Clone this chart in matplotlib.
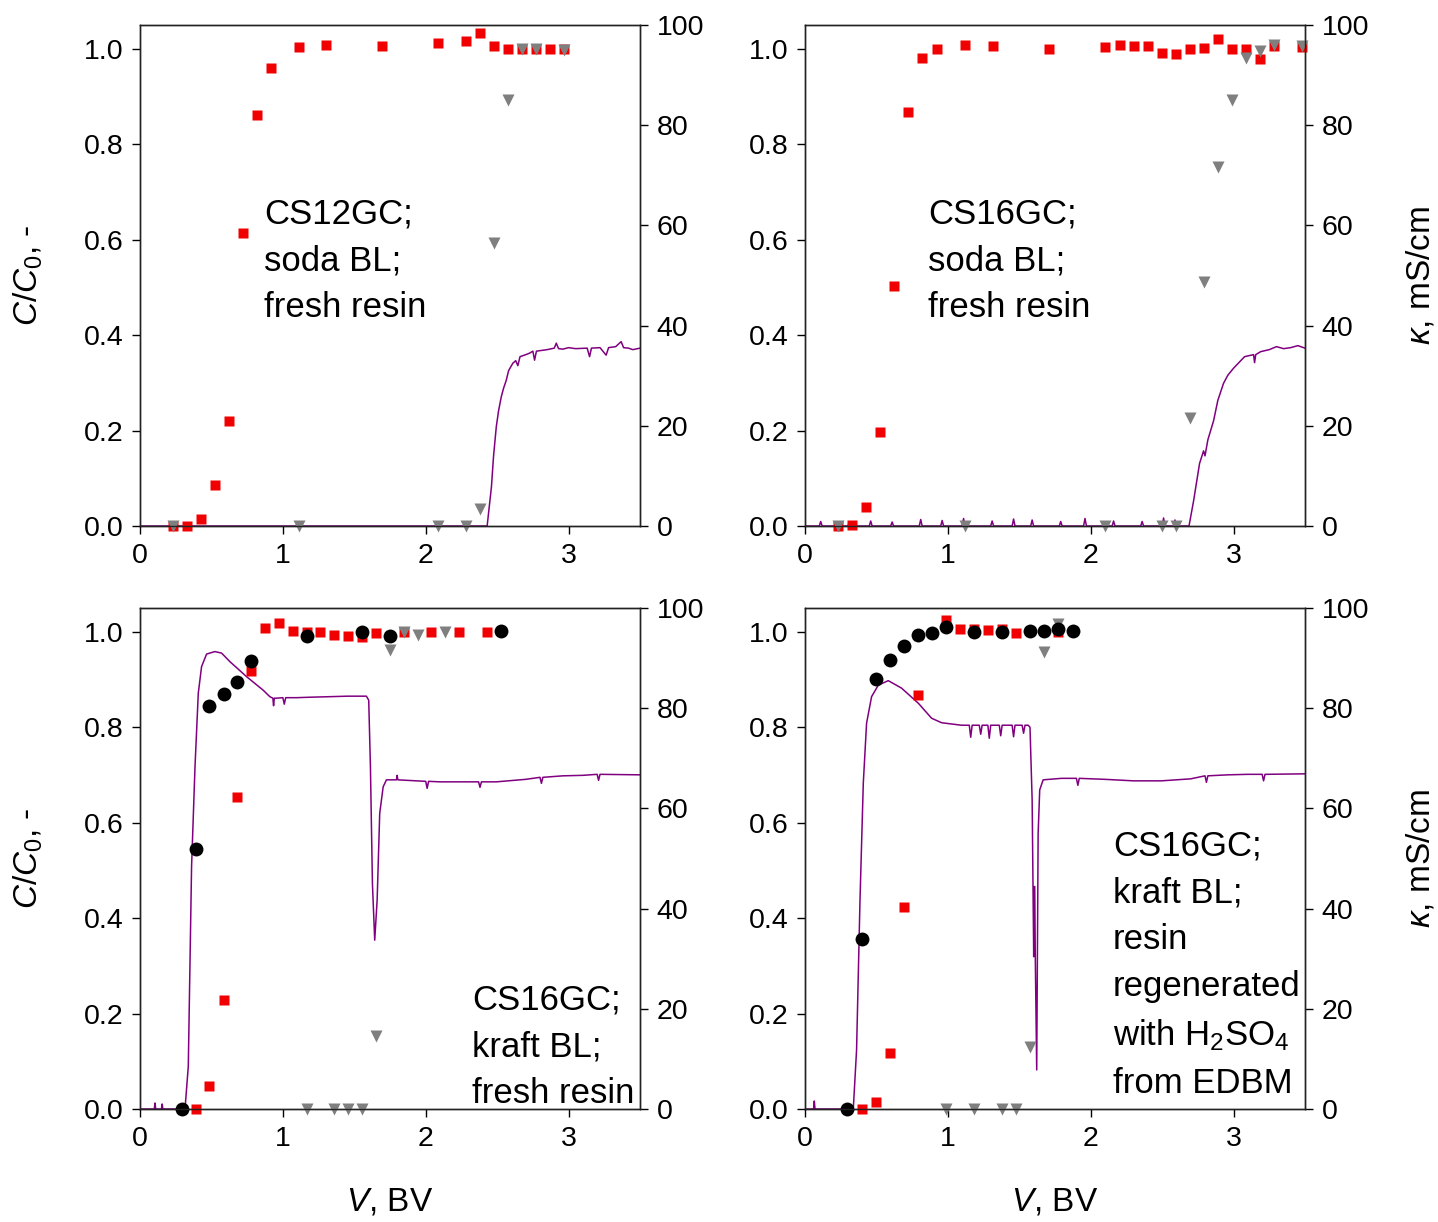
import matplotlib
matplotlib.use("Agg")
import matplotlib.pyplot as plt

plt.rcParams['font.family'] = ['Liberation Sans', 'DejaVu Sans']
plt.rcParams['mathtext.fontset'] = 'custom'
plt.rcParams['mathtext.rm'] = 'Liberation Sans'
plt.rcParams['mathtext.it'] = 'Liberation Sans:italic'

# ---------------- Panel A: CS12GC; soda BL; fresh resin ----------------
a_sq_x = [0.228, 0.326, 0.424, 0.522, 0.62, 0.718, 0.816, 0.914, 1.11, 1.305, 1.697, 2.086, 2.28, 2.378, 2.478, 2.573, 2.674, 2.77, 2.867, 2.965]
a_sq_y = [0.0, 0.0, 0.015, 0.085, 0.221, 0.615, 0.862, 0.959, 1.003, 1.008, 1.006, 1.012, 1.017, 1.033, 1.006, 0.999, 0.999, 0.999, 0.999, 0.999]
a_tri_x = [0.228, 1.11, 2.086, 2.28, 2.378, 2.478, 2.573, 2.674, 2.77, 2.965]
a_tri_y = [0.0, 0.0, 0.0, 0.0, 0.036, 0.594, 0.892, 1.0, 1.0, 0.997]
a_k_x = [0.0, 2.43, 2.46, 2.475, 2.494, 2.51, 2.529, 2.545, 2.564, 2.58, 2.61, 2.63, 2.645, 2.66, 2.70, 2.727, 2.75, 2.762, 2.775,
         2.85, 2.90, 2.914, 2.93, 2.96, 3.00, 3.05, 3.13, 3.147, 3.16, 3.22, 3.263, 3.28, 3.33, 3.368, 3.385, 3.42, 3.45, 3.5]
a_k_y = [0.0, 0.0, 7.8, 14.0, 19.8, 23.0, 25.8, 27.5, 29.1, 31.0, 32.5, 33.0, 32.0, 33.8, 34.2, 34.5, 34.9, 33.1, 34.9,
         35.2, 35.5, 36.5, 35.4, 35.3, 35.6, 35.4, 35.5, 33.8, 35.5, 35.6, 34.1, 35.6, 35.8, 36.8, 35.6, 35.5, 35.2, 35.5]

# ---------------- Panel B: CS16GC; soda BL; fresh resin ----------------
b_sq_x = [0.228, 0.326, 0.429, 0.527, 0.625, 0.723, 0.82, 0.921, 1.119, 1.315, 1.709, 2.103, 2.203, 2.301, 2.399, 2.497, 2.594, 2.692, 2.79, 2.888, 2.986, 3.086, 3.184, 3.282, 3.478]
b_sq_y = [0.0, 0.002, 0.039, 0.196, 0.504, 0.868, 0.98, 1.0, 1.009, 1.006, 0.999, 1.003, 1.008, 1.007, 1.007, 0.991, 0.989, 1.0, 1.001, 1.02, 1.0, 0.999, 0.979, 1.005, 1.003]
b_tri_x = [0.228, 1.119, 2.103, 2.497, 2.594, 2.692, 2.79, 2.888, 2.986, 3.086, 3.184, 3.282, 3.478]
b_tri_y = [0.0, 0.0, 0.0, 0.0, 0.0, 0.226, 0.511, 0.753, 0.893, 0.98, 0.996, 1.008, 1.006]
b_k_x = [0.0, 0.10, 0.11, 0.12, 0.30, 0.31, 0.32, 0.45, 0.46, 0.47, 0.60, 0.61, 0.62, 0.80, 0.81, 0.82,
         0.95, 0.96, 0.97, 1.10, 1.11, 1.12, 1.30, 1.31, 1.32, 1.45, 1.46, 1.47, 1.58, 1.59, 1.60,
         1.78, 1.79, 1.80, 1.95, 1.96, 1.97, 2.15, 2.16, 2.17, 2.35, 2.36, 2.37, 2.50, 2.51, 2.52, 2.58, 2.59, 2.60,
         2.688, 2.72, 2.762, 2.79, 2.80, 2.82, 2.86, 2.89, 2.93, 2.96, 3.00, 3.077, 3.14, 3.147, 3.155, 3.19, 3.25, 3.30, 3.35, 3.40, 3.45, 3.5]
b_k_y = [0.0, 0.0, 0.9, 0.0, 0.0, 0.7, 0.0, 0.0, 1.0, 0.0, 0.0, 0.8, 0.0, 0.0, 1.3, 0.0,
         0.0, 1.1, 0.0, 0.0, 1.5, 0.0, 0.0, 1.0, 0.0, 0.0, 1.4, 0.0, 0.0, 1.2, 0.0,
         0.0, 0.9, 0.0, 0.0, 1.5, 0.0, 0.0, 1.0, 0.0, 0.0, 0.9, 0.0, 0.0, 1.6, 0.0, 0.0, 1.2, 0.0,
         0.0, 5.0, 12.5, 15.0, 14.0, 17.2, 21.0, 25.1, 28.5, 30.1, 31.5, 33.8, 34.2, 32.6, 34.2, 34.8, 35.2, 35.8, 35.4, 35.6, 36.0, 35.5]

# ---------------- Panel C: CS16GC; kraft BL; fresh resin ----------------
c_sq_x = [0.389, 0.485, 0.585, 0.681, 0.779, 0.874, 0.972, 1.07, 1.166, 1.263, 1.361, 1.457, 1.555, 1.653, 1.846, 2.04, 2.233, 2.429]
c_sq_y = [0.0, 0.049, 0.229, 0.653, 0.919, 1.009, 1.018, 1.001, 0.999, 0.999, 0.994, 0.992, 0.99, 0.997, 0.999, 0.999, 0.999, 0.999]
c_dot_x = [0.291, 0.389, 0.485, 0.585, 0.681, 0.779, 1.166, 1.555, 1.748, 2.527]
c_dot_y = [0.0, 0.544, 0.844, 0.87, 0.894, 0.938, 0.992, 0.999, 0.992, 1.001]
c_tri_x = [1.166, 1.361, 1.457, 1.555, 1.653, 1.748, 1.846, 1.944, 2.138]
c_tri_y = [0.0, 0.0, 0.0, 0.0, 0.152, 0.962, 1.0, 0.994, 0.999]
c_k_x = [0.0, 0.10, 0.105, 0.11, 0.15, 0.155, 0.16, 0.315, 0.338, 0.361, 0.385, 0.408, 0.431, 0.466, 0.524, 0.571, 0.629, 0.746, 0.862,
         0.909, 0.93, 0.935, 0.94, 0.956, 1.0, 1.01, 1.02, 1.096, 1.2, 1.329, 1.45, 1.585, 1.601, 1.613, 1.627, 1.643, 1.66, 1.678,
         1.702, 1.725, 1.795, 1.80, 1.805, 2.0, 2.01, 2.02, 2.1, 2.261, 2.37, 2.38, 2.39, 2.494, 2.7, 2.8, 2.81, 2.82, 2.96, 3.1, 3.2, 3.21, 3.22, 3.5]
c_k_y = [0.0, 0.0, 1.2, 0.0, 0.0, 1.0, 0.0, 0.0, 8.5, 48.4, 68.3, 83.0, 88.3, 90.8, 91.3, 91.0, 89.3, 86.3, 83.6,
         82.3, 82.0, 80.5, 82.0, 82.0, 82.1, 80.8, 82.1, 82.1, 82.2, 82.3, 82.4, 82.4, 81.6, 68.3, 45.0, 33.7, 41.7, 59.0,
         64.3, 65.7, 65.7, 66.6, 65.7, 65.4, 64.0, 65.4, 65.3, 65.3, 65.3, 64.2, 65.3, 65.3, 65.8, 66.2, 65.0, 66.2, 66.5, 66.6, 66.8, 65.6, 66.8, 66.7]

# ---------------- Panel D: CS16GC; kraft BL; regenerated resin ----------------
d_dot_x = [0.296, 0.396, 0.494, 0.594, 0.692, 0.79, 0.888, 0.988, 1.184, 1.38, 1.578, 1.676, 1.774, 1.874]
d_dot_y = [0.0, 0.356, 0.902, 0.94, 0.97, 0.994, 0.997, 1.01, 0.999, 0.999, 1.001, 1.001, 1.006, 1.001]
d_sq_x = [0.396, 0.494, 0.594, 0.692, 0.79, 0.988, 1.086, 1.184, 1.282, 1.38, 1.48, 1.774]
d_sq_y = [0.0, 0.015, 0.118, 0.424, 0.867, 1.024, 1.005, 1.007, 1.003, 1.005, 0.998, 0.999]
d_tri_x = [0.988, 1.184, 1.38, 1.48, 1.578, 1.676, 1.774]
d_tri_y = [0.0, 0.0, 0.0, 0.0, 0.129, 0.957, 1.017]
d_k_x = [0.0, 0.06, 0.065, 0.07, 0.338, 0.361, 0.385, 0.408, 0.431, 0.466, 0.513, 0.583, 0.676, 0.793, 0.886, 0.956,
         1.096, 1.15, 1.16, 1.17, 1.22, 1.23, 1.24, 1.28, 1.29, 1.30, 1.36, 1.37, 1.38, 1.45, 1.46, 1.47, 1.52, 1.53, 1.54,
         1.562, 1.575, 1.59, 1.601, 1.605, 1.608, 1.612, 1.622, 1.632, 1.643, 1.667, 1.795, 1.90, 1.91, 1.92, 2.1, 2.3, 2.494,
         2.7, 2.80, 2.81, 2.82, 2.96, 3.1, 3.2, 3.21, 3.22, 3.5]
d_k_y = [0.0, 0.0, 1.6, 0.0, 0.0, 11.8, 41.7, 65.0, 77.0, 82.3, 84.6, 85.5, 84.0, 81.0, 78.0, 77.1,
         76.6, 76.6, 74.2, 76.6, 76.6, 74.8, 76.6, 76.6, 74.0, 76.6, 76.6, 74.5, 76.6, 76.6, 74.3, 76.6, 76.6, 75.0, 76.6,
         76.6, 76.2, 61.7, 30.4, 44.4, 44.4, 30.4, 7.8, 55.0, 63.7, 65.7, 66.0, 66.0, 64.6, 66.0, 65.8, 65.5, 65.5,
         65.9, 66.5, 65.2, 66.5, 66.7, 66.8, 66.8, 65.5, 66.8, 66.9]

labels = ["CS12GC;\nsoda BL;\nfresh resin",
          "CS16GC;\nsoda BL;\nfresh resin",
          "CS16GC;\nkraft BL;\nfresh resin",
          "CS16GC;\nkraft BL;\nresin\nregenerated\nwith H$_2$SO$_4$\nfrom EDBM"]

x_ticks = [0, 1, 2, 3]
y_ticks = [0.0, 0.2, 0.4, 0.6, 0.8, 1.0]
k_ticks = [0, 20, 40, 60, 80, 100]

RED = '#f00000'
GRAY = '#7f7f7f'
PURPLE = '#800080'
TICK_FS = 20.5
LAB_FS = 24
ANN_FS = 25

fig = plt.figure(figsize=(14.38, 12.22), dpi=100)

W = 500 / 1438
H = 501 / 1222
lefts = [140 / 1438, 805 / 1438]
bottoms = [1 - 526 / 1222, 1 - 1109 / 1222]

panels = [
    dict(sq=(a_sq_x, a_sq_y), tri=(a_tri_x, a_tri_y), dot=None, k=(a_k_x, a_k_y)),
    dict(sq=(b_sq_x, b_sq_y), tri=(b_tri_x, b_tri_y), dot=None, k=(b_k_x, b_k_y)),
    dict(sq=(c_sq_x, c_sq_y), tri=(c_tri_x, c_tri_y), dot=(c_dot_x, c_dot_y), k=(c_k_x, c_k_y)),
    dict(sq=(d_sq_x, d_sq_y), tri=(d_tri_x, d_tri_y), dot=(d_dot_x, d_dot_y), k=(d_k_x, d_k_y)),
]
text_pos = [(0.248, 0.655, 'top'), (0.246, 0.655, 'top'), (0.664, -0.002, 'bottom'), (0.616, 0.018, 'bottom')]

for i, p in enumerate(panels):
    row, col = divmod(i, 2)
    ax = fig.add_axes([lefts[col], bottoms[row], W, H])
    ax2 = ax.twinx()
    ax.set_zorder(ax2.get_zorder() + 1)
    ax.patch.set_visible(False)

    ax2.plot(p['k'][0], p['k'][1], color=PURPLE, lw=1.1)
    ax.plot(p['sq'][0], p['sq'][1], 's', color=RED, ms=7.5, mec='none', clip_on=False)
    ax.plot(p['tri'][0], p['tri'][1], 'v', color=GRAY, ms=9, mec='none', clip_on=False)
    if p['dot'] is not None:
        ax.plot(p['dot'][0], p['dot'][1], 'o', color='black', ms=10, mec='none', clip_on=False)

    ax.set_xlim(0, 3.5)
    ax.set_ylim(0, 1.05)
    ax2.set_ylim(0, 100)
    ax.set_xticks(x_ticks)
    ax.set_xticklabels([str(t) for t in x_ticks])
    ax.set_yticks(y_ticks)
    ax.set_yticklabels([f"{t:.1f}" for t in y_ticks])
    ax2.set_yticks(k_ticks)
    ax2.set_yticklabels([str(t) for t in k_ticks])
    for a in (ax, ax2):
        a.tick_params(labelsize=TICK_FS, length=6, width=1, direction='out', pad=6)
        for s in a.spines.values():
            s.set_linewidth(1.0)
            s.set_color('#222222')

    if col == 0:
        ax.set_ylabel(r'$C/C_0$, -', fontsize=LAB_FS)
        ax.yaxis.set_label_coords(-0.19, 0.5)
    else:
        ax2.set_ylabel(r'$\kappa$, mS/cm', fontsize=LAB_FS)
        ax2.yaxis.set_label_coords(1.2, 0.5)
    if row == 1:
        ax.set_xlabel(r'$V$, BV', fontsize=LAB_FS)
        ax.xaxis.set_label_coords(0.5, -0.155)

    tx, ty, va = text_pos[i]
    ax.text(tx, ty, labels[i], transform=ax.transAxes, ha='left', va=va,
            fontsize=ANN_FS, linespacing=1.53, zorder=10)

fig.savefig('out.png', dpi=100)
